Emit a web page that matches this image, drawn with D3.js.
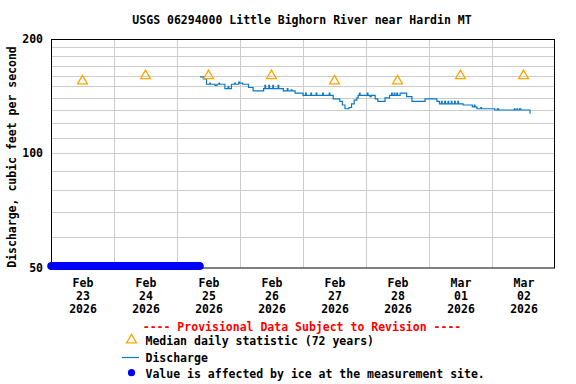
<!DOCTYPE html>
<html>
<head>
<meta charset="utf-8">
<script src="https://cdn.jsdelivr.net/npm/d3@7"></script>
<style>
  html, body { margin: 0; padding: 0; background: #fff; }
  svg text { font-family: "DejaVu Sans Mono", "Liberation Mono", monospace; font-weight: bold; }
</style>
</head>
<body>
<svg id="chart" width="576" height="384"></svg>
<script>
const TITLE = "USGS 06294000 Little Bighorn River near Hardin MT";
const Y_LABEL = "Discharge, cubic feet per second";
const START = "2026-02-23T00:00";
const END = "2026-03-03T00:00";

// daily median markers (plotted at noon)
const medianDays = ["2026-02-23", "2026-02-24", "2026-02-25", "2026-02-26",
                    "2026-02-27", "2026-02-28", "2026-03-01", "2026-03-02"];
const medianValues = [155, 160, 160, 160, 155, 155, 160, 160];

// ice affected period (values drawn on bottom edge)
const iceStart = "2026-02-23T00:00";
const iceEnd = "2026-02-25T08:45";

const yTickValues = [50, 100, 200];
const yGridValues = [60, 70, 80, 90, 100, 110, 120, 130, 140, 150, 160, 170, 180, 190];

// discharge, step changes [time, cfs]
const discharge = [
  ["2026-02-25T08:45", 159], ["2026-02-25T10:00", 157], ["2026-02-25T11:15", 152],
  ["2026-02-25T12:30", 153], ["2026-02-25T12:45", 152], ["2026-02-25T14:30", 151],
  ["2026-02-25T15:15", 152], ["2026-02-25T16:00", 153], ["2026-02-25T16:15", 152],
  ["2026-02-25T18:15", 148], ["2026-02-25T19:30", 150], ["2026-02-25T19:45", 148],
  ["2026-02-25T20:45", 152], ["2026-02-25T22:00", 153], ["2026-02-25T22:15", 152],
  ["2026-02-25T23:30", 154], ["2026-02-25T23:45", 153], ["2026-02-26T01:00", 152],
  ["2026-02-26T03:15", 149], ["2026-02-26T05:00", 146], ["2026-02-26T09:00", 148],
  ["2026-02-26T09:30", 151], ["2026-02-26T09:45", 148], ["2026-02-26T11:00", 151],
  ["2026-02-26T11:15", 148], ["2026-02-26T12:30", 151], ["2026-02-26T12:45", 148],
  ["2026-02-26T14:30", 151], ["2026-02-26T14:45", 148], ["2026-02-26T16:30", 146],
  ["2026-02-26T18:00", 148], ["2026-02-26T18:15", 146], ["2026-02-26T19:30", 147],
  ["2026-02-26T19:45", 146], ["2026-02-26T21:00", 144], ["2026-02-27T00:00", 142],
  ["2026-02-27T01:00", 144], ["2026-02-27T01:15", 142], ["2026-02-27T03:00", 144],
  ["2026-02-27T03:15", 142], ["2026-02-27T05:00", 144], ["2026-02-27T05:15", 142],
  ["2026-02-27T07:30", 144], ["2026-02-27T07:45", 142], ["2026-02-27T10:00", 144],
  ["2026-02-27T10:15", 142], ["2026-02-27T11:30", 139], ["2026-02-27T14:00", 137],
  ["2026-02-27T15:00", 134], ["2026-02-27T16:00", 131], ["2026-02-27T17:30", 132],
  ["2026-02-27T18:30", 135], ["2026-02-27T19:30", 138], ["2026-02-27T20:30", 140],
  ["2026-02-27T21:00", 142], ["2026-02-27T21:30", 144], ["2026-02-27T21:45", 142],
  ["2026-02-28T00:30", 144], ["2026-02-28T00:45", 142], ["2026-02-28T01:30", 141],
  ["2026-02-28T02:00", 142], ["2026-02-28T03:30", 139], ["2026-02-28T04:30", 137],
  ["2026-02-28T07:15", 140], ["2026-02-28T09:00", 142], ["2026-02-28T09:45", 144],
  ["2026-02-28T10:00", 142], ["2026-02-28T10:45", 144], ["2026-02-28T11:00", 142],
  ["2026-02-28T11:45", 144], ["2026-02-28T12:00", 142], ["2026-02-28T13:00", 144],
  ["2026-02-28T15:30", 141], ["2026-02-28T17:30", 137], ["2026-02-28T22:30", 139],
  ["2026-03-01T03:00", 137], ["2026-03-01T04:00", 135], ["2026-03-01T04:45", 137],
  ["2026-03-01T05:00", 135], ["2026-03-01T06:00", 137], ["2026-03-01T06:15", 135],
  ["2026-03-01T07:15", 137], ["2026-03-01T07:30", 135], ["2026-03-01T08:30", 137],
  ["2026-03-01T08:45", 135], ["2026-03-01T09:45", 137], ["2026-03-01T10:00", 135],
  ["2026-03-01T11:00", 137], ["2026-03-01T11:15", 135], ["2026-03-01T13:00", 134],
  ["2026-03-01T16:30", 132.5], ["2026-03-01T17:15", 134], ["2026-03-01T17:30", 132.5],
  ["2026-03-01T18:15", 131], ["2026-03-01T19:45", 132], ["2026-03-01T20:00", 131],
  ["2026-03-02T01:00", 130], ["2026-03-02T02:00", 131], ["2026-03-02T02:30", 130],
  ["2026-03-02T08:30", 131], ["2026-03-02T08:45", 130], ["2026-03-02T09:30", 131],
  ["2026-03-02T09:45", 130], ["2026-03-02T10:30", 131], ["2026-03-02T11:00", 130],
  ["2026-03-02T14:30", 127.5], ["2026-03-02T14:45", 127.5]
];

const parse = d3.utcParse("%Y-%m-%dT%H:%M");
const parseDay = d3.utcParse("%Y-%m-%d");

const margin = { left: 51, right: 21, top: 39, bottom: 116.5 };
const W = 576, H = 384;
const svg = d3.select("#chart");

const x = d3.scaleUtc()
  .domain([parse(START), parse(END)])
  .range([margin.left, W - margin.right]);

const y = d3.scaleLog()
  .domain([50, 200])
  .range([H - margin.bottom, margin.top]);

const plotW = W - margin.left - margin.right;
const plotH = H - margin.top - margin.bottom;

// grid
const days = d3.utcDay.range(parse(START), parse(END));
svg.append("g")
  .selectAll("line.vgrid")
  .data(days.slice(1))
  .join("line")
  .attr("x1", d => Math.round(x(d)) + 0.5).attr("x2", d => Math.round(x(d)) + 0.5)
  .attr("y1", margin.top).attr("y2", H - margin.bottom)
  .attr("stroke", "#cccccc").attr("stroke-width", 1);

svg.append("g")
  .selectAll("line.hgrid")
  .data(yGridValues)
  .join("line")
  .attr("x1", margin.left).attr("x2", W - margin.right)
  .attr("y1", d => Math.round(y(d)) + 0.5).attr("y2", d => Math.round(y(d)) + 0.5)
  .attr("stroke", "#cccccc").attr("stroke-width", 1);

// frame
svg.append("rect")
  .attr("x", margin.left + 0.5).attr("y", margin.top + 0.5)
  .attr("width", plotW - 1).attr("height", plotH)
  .attr("fill", "none").attr("stroke", "#000").attr("stroke-width", 1);

// y axis labels
const yAxis = d3.axisLeft(y).tickValues(yTickValues).tickSize(0).tickPadding(8)
  .tickFormat(d3.format("d"));
svg.append("g")
  .attr("transform", `translate(${margin.left},0)`)
  .call(yAxis)
  .call(g => g.select(".domain").remove())
  .call(g => g.selectAll("text")
    .attr("font-family", "DejaVu Sans Mono").attr("font-weight", "bold")
    .attr("font-size", 11.5).attr("fill", "#000"));

// x axis labels at noon
const noonTicks = days.map(d => d3.utcHour.offset(d, 12));
const fmtMon = d3.utcFormat("%b"), fmtDay = d3.utcFormat("%d"), fmtYear = d3.utcFormat("%Y");
const xAxis = d3.axisBottom(x).tickValues(noonTicks).tickSize(0).tickFormat("");
const xg = svg.append("g")
  .attr("transform", `translate(0,${H - margin.bottom})`)
  .call(xAxis)
  .call(g => g.select(".domain").remove());
xg.selectAll(".tick").each(function(d) {
  const t = d3.select(this).append("text")
    .attr("text-anchor", "middle").attr("font-size", 11.5).attr("fill", "#000");
  [fmtMon(d), fmtDay(d), fmtYear(d)].forEach((s, i) => {
    t.append("tspan").attr("x", 0).attr("y", 19 + i * 13).text(s);
  });
});

// ice affected points
const iceTimes = d3.utcMinute.every(15).range(parse(iceStart), d3.utcMinute.offset(parse(iceEnd), 1));
svg.append("g")
  .selectAll("circle")
  .data(iceTimes)
  .join("circle")
  .attr("cx", d => x(d))
  .attr("cy", y(50) - 1.5)
  .attr("r", 3.8)
  .attr("fill", "#0000ff");

// discharge line
const line = d3.line()
  .x(d => x(parse(d[0])))
  .y(d => y(d[1]))
  .curve(d3.curveStepAfter);
svg.append("path")
  .datum(discharge)
  .attr("d", line)
  .attr("fill", "none")
  .attr("stroke", "#0a78c8")
  .attr("stroke-width", 1.2);

// median markers
const tri = d3.symbol().type(d3.symbolTriangle).size(42);
svg.append("g")
  .selectAll("path")
  .data(medianDays.map((d, i) => [d3.utcHour.offset(parseDay(d), 12), medianValues[i]]))
  .join("path")
  .attr("transform", d => `translate(${x(d[0])},${y(d[1])})`)
  .attr("d", tri)
  .attr("fill", "none")
  .attr("stroke", "#ffa500")
  .attr("stroke-width", 1.3);

// title
svg.append("text")
  .attr("x", 302).attr("y", 24)
  .attr("text-anchor", "middle").attr("font-size", 11.5).attr("fill", "#000")
  .text(TITLE);

// y label
svg.append("text")
  .attr("transform", `translate(16,157) rotate(-90)`)
  .attr("text-anchor", "middle").attr("font-size", 11.5).attr("fill", "#000")
  .text(Y_LABEL);

// legend
svg.append("text")
  .attr("x", 302).attr("y", 331)
  .attr("text-anchor", "middle").attr("font-size", 11.5).attr("fill", "#ff0000")
  .text("---- Provisional Data Subject to Revision ----");

const lg = svg.append("g");
lg.append("path")
  .attr("transform", "translate(131.5,340)")
  .attr("d", tri).attr("fill", "none").attr("stroke", "#ffa500").attr("stroke-width", 1.3);
lg.append("text").attr("x", 145.5).attr("y", 344.5).attr("font-size", 11.5)
  .text("Median daily statistic (72 years)");
lg.append("line")
  .attr("x1", 122).attr("x2", 139).attr("y1", 357.5).attr("y2", 357.5)
  .attr("stroke", "#0a78c8").attr("stroke-width", 1.2);
lg.append("text").attr("x", 145.5).attr("y", 361.5).attr("font-size", 11.5)
  .text("Discharge");
lg.append("circle").attr("cx", 131.5).attr("cy", 372.7).attr("r", 3.6).attr("fill", "#0000ff");
lg.append("text").attr("x", 145.5).attr("y", 377.5).attr("font-size", 11.5)
  .text("Value is affected by ice at the measurement site.");
</script>
</body>
</html>
